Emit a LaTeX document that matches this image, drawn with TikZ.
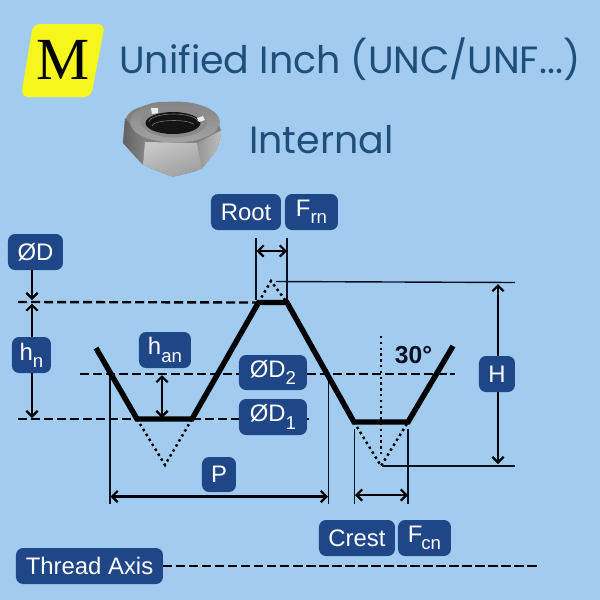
\documentclass[tikz,border=0pt]{standalone}
\usepackage{fontspec}
\setmainfont{Liberation Sans}
\newfontfamily\titlefont{Poppins}
\newfontfamily\serifM{Liberation Serif}
\usetikzlibrary{arrows.meta,calc}
\definecolor{bgc}{HTML}{A1CCF0}
\definecolor{boxc}{HTML}{1F4788}
\definecolor{titlec}{HTML}{1F4E79}
\definecolor{inkc}{HTML}{0A1020}
\definecolor{badgec}{HTML}{F6F61C}
\tikzset{
  x=0.02cm,y=-0.02cm,
  lab/.style={fill=boxc,text=white,rounded corners=4pt,inner sep=0pt,font=\fontsize{13.6}{15}\selectfont,anchor=center},
  titletext/.style={text=titlec,font=\titlefont\fontsize{21.6}{25}\selectfont,inner sep=0pt},
  profile/.style={line width=3.1pt,black,line join=miter,line cap=butt},
  dashline/.style={line width=1.35pt,black,dash pattern=on 5.2pt off 2.2pt},
  dotline/.style={line width=1.4pt,black,dash pattern=on 1.4pt off 1.9pt},
  extline/.style={line width=.8pt,inkc},
  dimline/.style={line width=1.25pt,black},
  dimboth/.style={dimline,{Straight Barb[length=3.2pt,width=6.4pt,line width=1.25pt]}-{Straight Barb[length=3.2pt,width=6.4pt,line width=1.25pt]}},
  dimend/.style={dimline,-{Straight Barb[length=3.2pt,width=6.4pt,line width=1.25pt]}},
}
\newcommand{\subsc}[1]{\raisebox{-.3em}{\fontsize{10.6}{11}\selectfont #1}}
\newcommand{\labbox}[6]{% name, x1, y1, x2, y2, text
  \node[lab,minimum width=#4*0.02cm-#2*0.02cm,minimum height=#5*0.02cm-#3*0.02cm] (#1) at ({(#2+#4)/2},{(#3+#5)/2}) {#6};}
\begin{document}
\begin{tikzpicture}
\useasboundingbox (0,0) rectangle (600,600);
\fill[bgc] (0,0) rectangle (600,600);
% badge
\fill[badgec,rounded corners=4pt] (33,24) -- (105,24) -- (91,97) -- (21,97) -- cycle;
\node[inner sep=0pt,font=\serifM\fontsize{34}{36}\selectfont,text=black] (mletter) at (63,60) {M};
% title
\node[titletext,anchor=base west] (title) at (119,73) {Unified Inch (UNC/UNF...)};
\node[titletext,anchor=base west] (internal) at (249,153) {Internal};
% nut
\begin{scope}
\fill[black!50,rounded corners=3pt] (125,118) -- (132,110) -- (155,102) -- (193,103) -- (217,122) -- (222,130) -- (217,150) -- (200,170) -- (173,177) -- (143,165) -- (123,143) -- cycle;
\shade[left color=black!62,right color=black!48] (125,118) -- (145,142) -- (143,165) -- (123,143) -- cycle;
\shade[left color=black!22,right color=black!38,shading angle=20] (145,142) -- (198,143) -- (202,169) -- (173,177) -- (143,165) -- cycle;
\shade[left color=black!42,right color=black!25] (197,143) -- (222,130) -- (217,150) -- (202,169) -- cycle;
\shade[top color=black!48,bottom color=black!36] (175,122) ellipse [x radius=45,y radius=20.5];
\fill[black!46] (174,122) ellipse [x radius=33,y radius=15.5];
\fill[black!92] (173,123) ellipse [x radius=27.5,y radius=11];
\draw[black!55,line width=.35pt] (149,122) arc[start angle=180,end angle=360,x radius=24.5,y radius=8];
\draw[black!55,line width=.35pt] (152,126) arc[start angle=180,end angle=340,x radius=21.5,y radius=5.5];
\fill[white!85!gray] (151,108) -- (158,108) -- (158,113) -- (152,114) -- cycle;
\fill[white!85!gray] (197,118) -- (203,116) -- (205,120) -- (199,122) -- cycle;
\end{scope}
% coordinates
\coordinate (pa) at (96,348); \coordinate (pb) at (137,419); \coordinate (pc) at (192,419);
\coordinate (pd) at (258.5,302.5); \coordinate (pe) at (287,302.5); \coordinate (pf) at (354,422);
\coordinate (pg) at (408,422); \coordinate (ph) at (453,346);
\coordinate (apexL) at (165,465); \coordinate (apexT) at (271,281); \coordinate (apexR) at (381,466);
% dashed lines
\coordinate (d1a) at (18,302); \coordinate (d2a) at (80,374); \coordinate (d2c) at (455,374);
\coordinate (d3a) at (18,419); \coordinate (d3c) at (309,419);
\coordinate (ax) at (540,566);
\labbox{root}{211}{194}{281}{230}{Root}
\labbox{frn}{285}{194}{338}{230}{F\subsc{rn}}
\labbox{dia}{8}{234}{63}{270}{ØD}
\labbox{hn}{12}{337}{51}{373}{h\subsc{n}}
\labbox{han}{139}{332}{191}{368}{h\subsc{an}}
\labbox{dtwo}{239}{355}{307}{390}{ØD\subsc{2}}
\labbox{done}{239}{399}{307}{435}{ØD\subsc{1}}
\labbox{hh}{479}{356}{515}{392}{H}
\labbox{pp}{202}{457}{236}{492}{P}
\labbox{crest}{319}{520}{395}{556}{Crest}
\labbox{fcn}{398}{520}{451}{556}{F\kern-.05em\subsc{cn}}
\labbox{axis}{16}{548}{163}{584}{Thread Axis}
\draw[dashline] (d1a) -- (pd);
\draw[dashline] (d2a) -- (dtwo.west |- d2a);
\draw[dashline] (dtwo.east |- d2a) -- (d2c);
\draw[dashline] (d3a) -- (pb);
\draw[dashline] (pc) -- (done.west |- pc);
\draw[dotline] (done.east |- d3c) -- (d3c);
\draw[dashline] (axis.east) -- (ax);
% dotted
\draw[dotline] (pb) -- (apexL) -- (pc);
\draw[dotline] (pd) -- (apexT) -- (pe);
\draw[dotline] (pf) -- (apexR) -- (pg);
\coordinate (vt) at (381,336); \coordinate (vb) at (381,455);
\draw[dotline] (vt) -- (vb);
\node[inner sep=0pt,font=\bfseries\fontsize{14}{15}\selectfont,text=inkc] (angle) at (413.5,355) {30°};
% extension lines
\coordinate (e1) at (256,238); \coordinate (e1b) at (256,300);
\coordinate (e2) at (287,238); \coordinate (e2b) at (287,300);
\draw[extline] (e1) -- (e1b); \draw[extline] (e2) -- (e2b);
\coordinate (e3) at (276,281.5); \coordinate (e3b) at (515,282.5);
\coordinate (e4) at (382,466); \coordinate (e4b) at (515,466);
\draw[extline] (e3) -- (e3b); \draw[extline] (e4) -- (e4b);
\coordinate (e5) at (110,375); \coordinate (e5b) at (110,504);
\coordinate (e6) at (328.5,375); \coordinate (e6b) at (328.5,504);
\coordinate (e7) at (354.5,429); \coordinate (e7b) at (354.5,504);
\coordinate (e8) at (408,429); \coordinate (e8b) at (408,504);
\foreach \s/\t in {e5/e5b,e6/e6b,e7/e7b,e8/e8b} \draw[extline] (\s) -- (\t);
% profile
\draw[profile] (pa) -- (pb) -- (pc) -- (pd) -- (pe) -- (pf) -- (pg) -- (ph);
% dimensions
\coordinate (ra) at (256.5,251); \coordinate (rb) at (287,251);
\draw[dimboth] (ra) -- (rb);
\coordinate (da) at (32,300);
\draw[dimend] (dia.south -| da) -- (da);
\coordinate (hna) at (32,303.5); \coordinate (hnb) at (32,418);
\draw[dimend] (hn.north -| hna) -- (hna);
\draw[dimend] (hn.south -| hnb) -- (hnb);
\coordinate (ha) at (162,375); \coordinate (hb) at (162,418);
\draw[dimboth] (ha) -- (hb);
\coordinate (pl) at (110.5,496.5); \coordinate (pr) at (328,496.5);
\draw[dimboth] (pl) -- (pr);
\coordinate (cl) at (355,495); \coordinate (cr) at (408,495);
\draw[dimboth] (cl) -- (cr);
\coordinate (hta) at (498,284); \coordinate (htb) at (498,464);
\draw[dimend] (hh.north -| hta) -- (hta);
\draw[dimend] (hh.south -| htb) -- (htb);
\end{tikzpicture}
\end{document}
